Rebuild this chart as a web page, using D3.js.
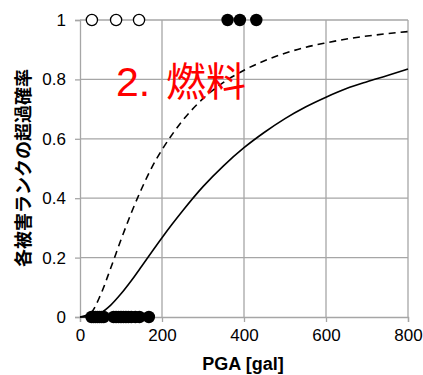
<!DOCTYPE html>
<html><head><meta charset="utf-8">
<script src="https://cdn.jsdelivr.net/npm/d3@7"></script>
<style>body{margin:0;background:#fff}</style>
</head><body>
<svg id="c" width="423" height="375"></svg>
<script>
const xTicks = [0, 200, 400, 600, 800];
const yTicks = [0, 0.2, 0.4, 0.6, 0.8, 1];
const yTickLabels = ["0", "0.2", "0.4", "0.6", "0.8", "1"];
// observation points
const openX = [29, 88, 144];            // open circles at p=1
const filledTopX = [360, 390, 430];     // filled circles at p=1
const filledBottomX = [28, 33, 38, 43, 48, 53, 58, 82, 88, 94, 100, 106, 112, 118, 125, 135, 145, 168]; // filled at p=0
// fragility curves
const curveX = [0, 25, 50, 75, 100, 125, 150, 175, 200, 225, 250, 300, 350, 400, 450, 500, 550, 600, 650, 700, 750, 800];
const solidY = [0, 0.001, 0.013, 0.04, 0.078, 0.122, 0.17, 0.219, 0.267, 0.313, 0.357, 0.439, 0.509, 0.57, 0.622, 0.668, 0.707, 0.74, 0.769, 0.792, 0.813, 0.835];
const dashedY = [0, 0.012, 0.074, 0.165, 0.26, 0.35, 0.431, 0.503, 0.563, 0.615, 0.661, 0.735, 0.79, 0.831, 0.863, 0.888, 0.908, 0.923, 0.936, 0.946, 0.954, 0.961];
const titleNum = "2.";
const titleName = "燃料";
const yLabel = "各被害ランクの超過確率";
const xLabel = "PGA [gal]";

const svg = d3.select("#c");
const x = d3.scaleLinear().domain([0, 800]).range([80, 408]);
const y = d3.scaleLinear().domain([0, 1]).range([317, 20]);
const grid = "#a6a6a6";

// gridlines
svg.append("g").selectAll("line").data(xTicks.slice(1)).join("line")
  .attr("x1", d => x(d)).attr("x2", d => x(d)).attr("y1", y(0)).attr("y2", y(1))
  .attr("stroke", grid).attr("stroke-width", 1.3);
svg.append("g").selectAll("line").data(yTicks.slice(1)).join("line")
  .attr("x1", x(0)).attr("x2", x(800)).attr("y1", d => y(d)).attr("y2", d => y(d))
  .attr("stroke", grid).attr("stroke-width", 1.3);

// axes
const xAxis = svg.append("g").attr("transform", `translate(0,${y(0)})`)
  .call(d3.axisBottom(x).tickValues(xTicks).tickSize(5).tickPadding(7));
const yAxis = svg.append("g").attr("transform", `translate(${x(0)},0)`)
  .call(d3.axisLeft(y).tickValues(yTicks).tickFormat((d, i) => yTickLabels[i]).tickSize(5).tickPadding(9));
[xAxis, yAxis].forEach(a => {
  a.select(".domain").attr("stroke", grid).attr("stroke-width", 1.3);
  a.selectAll(".tick line").attr("stroke", grid).attr("stroke-width", 1.3);
  a.selectAll("text").attr("font-family", "Liberation Sans, Arial, sans-serif")
   .attr("font-size", 17).attr("fill", "#000");
});

// curves
const line = d3.line().x(d => x(d[0])).y(d => y(d[1])).curve(d3.curveMonotoneX);
svg.append("path").datum(curveX.map((v, i) => [v, dashedY[i]]))
  .attr("d", line).attr("fill", "none").attr("stroke", "#000")
  .attr("stroke-width", 1.6).attr("stroke-dasharray", "7,5");
svg.append("path").datum(curveX.map((v, i) => [v, solidY[i]]))
  .attr("d", line).attr("fill", "none").attr("stroke", "#000").attr("stroke-width", 1.6);

// points
svg.append("g").selectAll("circle").data(filledBottomX).join("circle")
  .attr("cx", d => x(d)).attr("cy", y(0)).attr("r", 6.2).attr("fill", "#000");
svg.append("g").selectAll("circle").data(filledTopX).join("circle")
  .attr("cx", d => x(d)).attr("cy", y(1)).attr("r", 6.2).attr("fill", "#000");
svg.append("g").selectAll("circle").data(openX).join("circle")
  .attr("cx", d => x(d)).attr("cy", y(1)).attr("r", 5.6)
  .attr("fill", "#fff").attr("stroke", "#000").attr("stroke-width", 1.3);

// title
const t = svg.append("text").attr("y", 96)
  .attr("font-family", "Liberation Sans, Arial, sans-serif").attr("font-size", 41)
  .attr("fill", "#ff0000");
t.append("tspan").attr("x", 116).text(titleNum);
t.append("tspan").attr("x", 166).attr("font-family", "Noto Sans CJK JP, sans-serif")
  .attr("font-size", 40).text(titleName);

// axis labels
svg.append("text").attr("transform", `translate(30,168) rotate(-90)`)
  .attr("text-anchor", "middle").attr("font-family", "Noto Sans CJK JP, sans-serif")
  .attr("font-weight", "bold").attr("font-size", 18).attr("fill", "#000").text(yLabel);
svg.append("text").attr("x", 243).attr("y", 370).attr("text-anchor", "middle")
  .attr("font-family", "Liberation Sans, Arial, sans-serif").attr("font-weight", "bold")
  .attr("font-size", 18).attr("fill", "#000").text(xLabel);
</script>
</body></html>
